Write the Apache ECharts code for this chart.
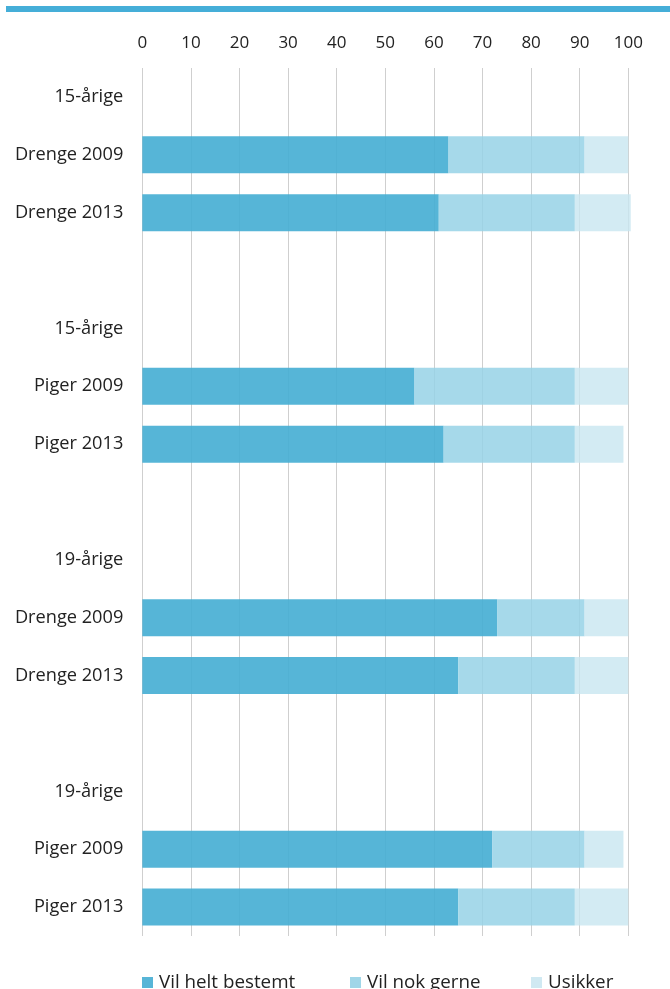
<!DOCTYPE html>
<html>
<head>
<meta charset="utf-8">
<script src="https://cdn.jsdelivr.net/npm/echarts@6/dist/echarts.min.js"></script>
<style>
html,body{margin:0;padding:0;background:#fff;}
#c{width:670px;height:989px;}
</style>
</head>
<body>
<div id="c"></div>
<script>
const categories = ['15-årige','Drenge 2009','Drenge 2013','','15-årige','Piger 2009','Piger 2013',' ','19-årige','Drenge 2009','Drenge 2013','  ','19-årige','Piger 2009','Piger 2013'];
const seriesNames = ['Vil helt bestemt','Vil nok gerne','Usikker'];
const helt = [null,63,61,null,null,56,62,null,null,73,65,null,null,72,65];
const nok = [null,28,28,null,null,33,27,null,null,18,24,null,null,19,24];
const usikker = [null,9,11.5,null,null,11,10,null,null,9,11,null,null,8,11];
const xTicks = [0,10,20,30,40,50,60,70,80,90,100];

const colors = ['rgba(68,173,211,0.9)','rgba(150,210,230,0.85)','rgba(200,230,240,0.8)'];
const legendColors = ['#57b5d7','#a0d6e8','#d0e9f2'];
const font = '"Open Sans", Lato, sans-serif';

const chart = echarts.init(document.getElementById('c'), null, {renderer:'canvas'});
const values = [helt, nok, usikker];
const legendLeft = [142, 350, 531];

chart.setOption({
  animation:false,
  textStyle:{fontFamily:font},
  graphic:[{type:'rect', shape:{x:6,y:6,width:664,height:6}, style:{fill:'#45aed8'}}],
  grid:{left:142.3, right:41.7, top:68, bottom:53},
  legend: seriesNames.map((n,i)=>({
    data:[{name:n, itemStyle:{color:legendColors[i], opacity:1}}],
    left:legendLeft[i], top:973, itemWidth:11, itemHeight:11, itemGap:0,
    textStyle:{fontSize:18.8, color:'#222', fontFamily:font, padding:[0,0,0,1]},
    icon:'rect', padding:0, selectedMode:false
  })),
  xAxis:{
    type:'value', position:'top', min:0, max:100, interval:10,
    axisLine:{show:false}, axisTick:{show:false},
    axisLabel:{fontSize:17, color:'#222', margin:16, formatter:v=>xTicks.includes(v)?String(v):''},
    splitLine:{show:true, lineStyle:{color:'#cfcfcf', width:1}}
  },
  yAxis:{
    type:'category', inverse:true, data:categories,
    axisLine:{show:false}, axisTick:{show:false},
    axisLabel:{fontSize:18.2, color:'#222', margin:19}
  },
  series: seriesNames.map((n,i)=>({
    name:n, type:'bar', stack:'s', barWidth:37, clip:false,
    itemStyle:{color:colors[i]},
    data:values[i]
  }))
});
</script>
</body>
</html>
